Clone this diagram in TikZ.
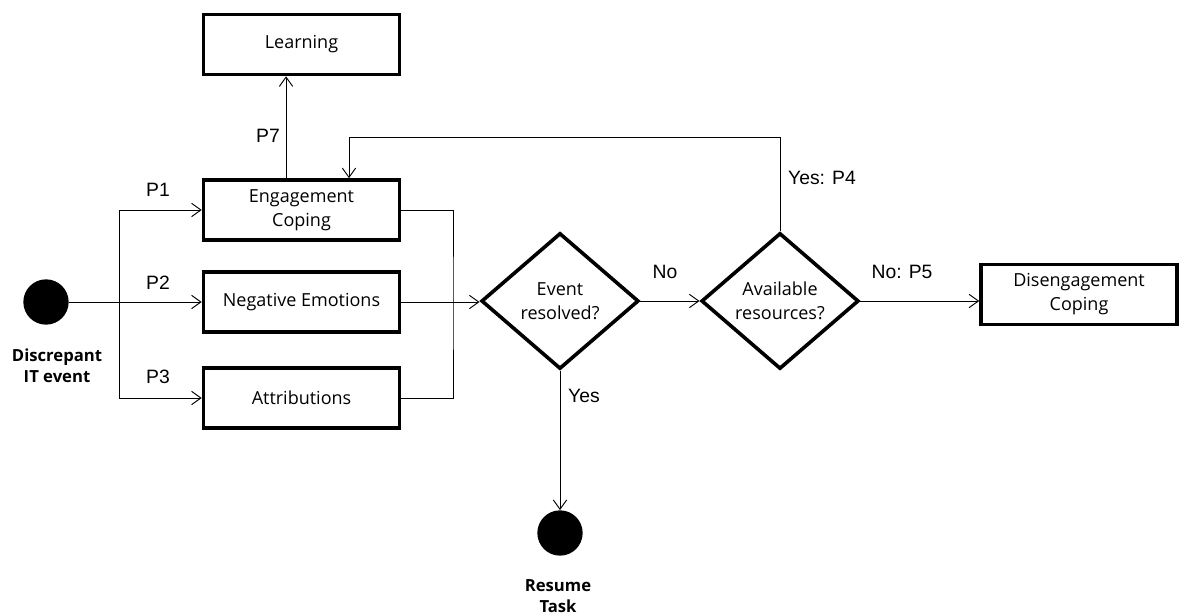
\documentclass[tikz,border=0pt]{standalone}
\usepackage{fontspec}
\setmainfont{Open Sans}
\newfontfamily\labfont{Liberation Sans}
\usetikzlibrary{calc, positioning, arrows.meta, shapes.geometric}

\begin{document}
\begin{tikzpicture}[x=0.75pt, y=-0.75pt,
  box/.style={draw, line width=2.7pt, minimum width=147pt, minimum height=45pt, align=center, font=\fontsize{13.5}{18}\selectfont},
  dia/.style={draw, diamond, line width=2.7pt, minimum width=118pt, minimum height=102pt, inner sep=0pt, align=center, font=\fontsize{13.5}{18}\selectfont},
  dot/.style={circle, fill=black, minimum size=34pt, inner sep=0pt},
  lab/.style={font=\labfont\fontsize{14.5}{17}\selectfont},
  bold/.style={align=center, font=\bfseries\fontsize{12.5}{16}\selectfont},
  arr/.style={-{Straight Barb[length=7pt, width=10pt]}, line width=0.7pt},
  ln/.style={line width=0.7pt}
]
\useasboundingbox (0,0) rectangle (1180,616);

\node (start) [dot] at (46,302) {};
\node (startlab) [bold] at (57,366) {Discrepant\\IT event};

\node (learn) [box] at (301.5,44.5) {Learning};
\node (engage) [box] at (301.5,210) {Engagement\\Coping};
\node (negemo) [box] at (301.5,302) {Negative Emotions};
\node (attrib) [box] at (301.5,398) {Attributions};

\node (resolved) [dia] at (560,301) {Event\\resolved?};
\node (avail) [dia] at (780,301) {Available\\resources?};
\node (diseng) [box] at (1079,294.5) {Disengagement\\Coping};

\node (resume) [dot] at (560,533) {};
\node (resumelab) [bold] at (558,596) {Resume\\Task};

\coordinate (split) at (119,302);
\coordinate (bus) at (453,302);
\coordinate (loop) at (349,137);

% inputs
\draw[arr] (start) -- (negemo);
\draw[arr] (split) |- (engage.west);
\draw[arr] (split) |- (attrib.west);
\draw[arr] ([xshift=-11.6pt]engage.north) -- ([xshift=-11.6pt]learn.south);

% outputs
\draw[ln] (engage.east) -| (bus) |- (attrib.east);
\draw[arr] (negemo.east) -- (negemo.east -| resolved.west);
\draw[arr] (resolved) -- (avail);
\draw[arr] (avail.east) -- (avail.east -| diseng.west);
\draw[arr] (avail.north) |- (loop) -- (loop |- engage.north);
\draw[arr] (resolved.south) -- (resume.north);

\node (p1) [lab] at (158,190) {P1};
\node (p2) [lab] at (158,283) {P2};
\node (p3) [lab] at (158,377) {P3};
\node (p7) [lab] at (268,136) {P7};
\node (p4) [lab] at (822,178) {Yes: P4};
\node (no) [lab] at (665,272) {No};
\node (p5) [lab] at (902,272) {No: P5};
\node (yes) [lab] at (584,396) {Yes};
\end{tikzpicture}
\end{document}
